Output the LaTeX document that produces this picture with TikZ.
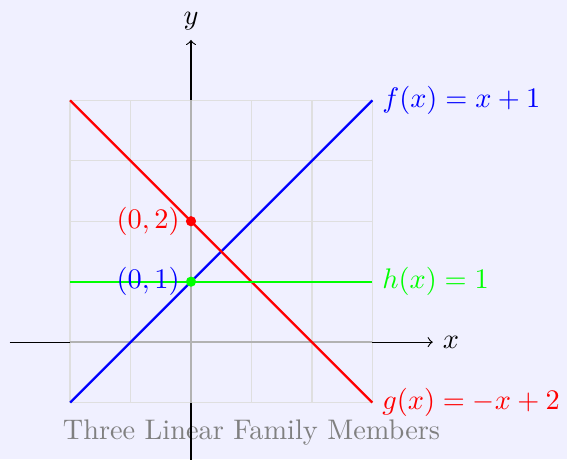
\documentclass[tikz,border=0pt]{standalone}
\begin{document}
\begin{tikzpicture}[x=0.75cm,y=0.75cm,
  gridline/.style={gray!25, line width=0.5pt},
  axisline/.style={black, line width=0.4pt, ->},
  axisover/.style={gray!60, line width=0.8pt},
  curve/.style={line width=0.8pt},
  dot/.style={circle, fill, inner sep=0pt, minimum size=3.6pt}]
\useasboundingbox[fill=blue!6] (-3.16,-1.94) rectangle (6.22,5.66);
\draw[gridline, step=1] (-2,-1) grid (3,4);
\node[gray] (title) at (1,-1.5) {Three Linear Family Members};
% axes
\coordinate (xs) at (-3,0); \coordinate (xe) at (4,0);
\coordinate (ys) at (0,-2); \coordinate (ye) at (0,5);
\draw[axisline] (xs) -- (xe) node[anchor=west, black] (xlab) {$x$};
\draw[axisline] (ys) -- (ye) node[anchor=south, black] (ylab) {$y$};
\coordinate (xgs) at (-2,0); \coordinate (xge) at (3,0);
\coordinate (ygs) at (0,-1); \coordinate (yge) at (0,4);
\draw[axisover] (xgs) -- (xge);
\draw[axisover] (ygs) -- (yge);
% lines
\coordinate (f1) at (-2,-1); \coordinate (f2) at (3,4);
\coordinate (g1) at (-2,4); \coordinate (g2) at (3,-1);
\coordinate (h1) at (-2,1); \coordinate (h2) at (3,1);
\draw[curve, blue] (f1) -- (f2);
\draw[curve, red] (g1) -- (g2);
\draw[curve, green] (h1) -- (h2);
\node[blue, anchor=west] (flab) at (f2) {$f(x)=x+1$};
\node[red, anchor=west] (glab) at (g2) {$g(x)=-x+2$};
\node[green, anchor=west] (hlab) at (h2) {$h(x)=1$};
% points
\node[dot, red, label={[red, label distance=-1.5pt]left:$(0,2)$}] (p2) at (0,2) {};
\node[dot, green, label={[blue, label distance=-1.5pt]left:$(0,1)$}] (p1) at (0,1) {};
\end{tikzpicture}
\end{document}
